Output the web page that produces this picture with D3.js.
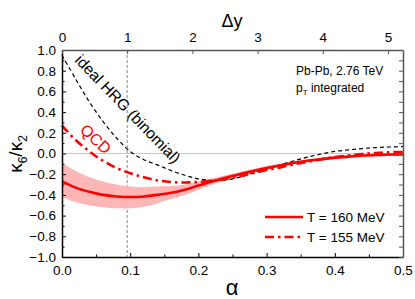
<!DOCTYPE html>
<html><head><meta charset="utf-8">
<script src="https://cdn.jsdelivr.net/npm/d3@7"></script>
<style>body{margin:0;background:#fff}svg{display:block}text{font-family:Arial,"Liberation Sans",Helvetica,sans-serif}</style>
</head><body><svg id="c" width="415" height="299"></svg>
<script>
const alpha = [0,0.02,0.04,0.06,0.08,0.1,0.12,0.14,0.16,0.18,0.2,0.22,0.24,0.26,0.28,0.3,0.32,0.34,0.36,0.38,0.4,0.42,0.44,0.46,0.48,0.5];
const hrg =   [0.95,0.72,0.50,0.31,0.15,0.02,-0.06,-0.11,-0.165,-0.21,-0.245,-0.26,-0.255,-0.23,-0.19,-0.15,-0.11,-0.07,-0.035,-0.005,0.02,0.035,0.048,0.057,0.063,0.066];
const t155 =  [0.27,0.13,0.02,-0.07,-0.14,-0.19,-0.23,-0.26,-0.275,-0.28,-0.275,-0.265,-0.245,-0.22,-0.19,-0.16,-0.135,-0.105,-0.08,-0.055,-0.035,-0.02,-0.005,0.005,0.012,0.015];
const t160 =  [-0.27,-0.33,-0.37,-0.40,-0.415,-0.42,-0.415,-0.40,-0.38,-0.35,-0.31,-0.27,-0.235,-0.20,-0.17,-0.14,-0.115,-0.09,-0.07,-0.055,-0.04,-0.03,-0.02,-0.015,-0.01,-0.01];
const bandLo = [-0.42,-0.47,-0.50,-0.52,-0.53,-0.53,-0.515,-0.48,-0.44,-0.40,-0.35,-0.30,-0.26,-0.22,-0.19,-0.16,-0.13,-0.105,-0.085,-0.07,-0.055,-0.045,-0.035,-0.03,-0.025,-0.025];
const bandHi = [-0.09,-0.17,-0.23,-0.27,-0.30,-0.32,-0.325,-0.32,-0.315,-0.30,-0.27,-0.24,-0.21,-0.18,-0.15,-0.12,-0.10,-0.075,-0.055,-0.04,-0.025,-0.015,-0.005,0.0,0.005,0.005];
const xTicks = [0,0.1,0.2,0.3,0.4,0.5];
const yTicks = [-1,-0.8,-0.6,-0.4,-0.2,0,0.2,0.4,0.6,0.8,1];
const dyTicks = [0,1,2,3,4,5];
const dyMax = 5.23;
const dyLine = 1;
const legendLabels = ["T = 160 MeV","T = 155 MeV"];

const svg = d3.select("#c");
const L=62,R=403,T=50,B=257;
const x = d3.scaleLinear().domain([0,0.5]).range([L,R]);
const xt = d3.scaleLinear().domain([0,dyMax]).range([L,R]);
const y = d3.scaleLinear().domain([-1,1]).range([B,T]);
const fmt = d3.format(".1f");

// reference lines
svg.append("line").attr("x1",L).attr("x2",R).attr("y1",y(0)).attr("y2",y(0)).attr("stroke","#c8c8c8").attr("stroke-width",1);
svg.append("line").attr("x1",xt(dyLine)).attr("x2",xt(dyLine)).attr("y1",T).attr("y2",B).attr("stroke","#888").attr("stroke-width",1).attr("stroke-dasharray","3,2");

const idx = d3.range(alpha.length);
const curve = d3.curveCatmullRom;
svg.append("path").attr("d", d3.area().x(i=>x(alpha[i])).y0(i=>y(bandLo[i])).y1(i=>y(bandHi[i])).curve(curve)(idx)).attr("fill","#ffb6b6");
const line = arr => d3.line().x(i=>x(alpha[i])).y(i=>y(arr[i])).curve(curve)(idx);
svg.append("path").attr("d",line(hrg)).attr("fill","none").attr("stroke","#000").attr("stroke-width",1.2).attr("stroke-dasharray","4,3");
svg.append("path").attr("d",line(t155)).attr("fill","none").attr("stroke","#ff0000").attr("stroke-width",2.6).attr("stroke-dasharray","9,4,2.5,4");
svg.append("path").attr("d",line(t160)).attr("fill","none").attr("stroke","#ff0000").attr("stroke-width",2.6);

// axes
const gB = svg.append("g").attr("transform",`translate(0,${B})`).call(d3.axisBottom(x).tickValues(xTicks).tickFormat(fmt).tickSize(-4).tickSizeOuter(0).tickPadding(8));
const gL = svg.append("g").attr("transform",`translate(${L},0)`).call(d3.axisLeft(y).tickValues(yTicks).tickFormat(fmt).tickSize(-4).tickSizeOuter(0).tickPadding(6));
const gT = svg.append("g").attr("transform",`translate(0,${T})`).call(d3.axisTop(xt).tickValues(dyTicks).tickFormat(d3.format("d")).tickSize(-4).tickSizeOuter(0).tickPadding(8));
const gR = svg.append("g").attr("transform",`translate(${R},0)`).call(d3.axisRight(y).ticks(20).tickFormat("").tickSize(-4).tickSizeOuter(0));
// minor ticks
svg.append("g").attr("transform",`translate(0,${B})`).call(d3.axisBottom(x).tickValues(d3.range(0.05,0.5,0.1)).tickFormat("").tickSize(-2.5).tickSizeOuter(0)).select(".domain").remove();
svg.append("g").attr("transform",`translate(${L},0)`).call(d3.axisLeft(y).tickValues(d3.range(-0.9,1,0.2)).tickFormat("").tickSize(-2.5).tickSizeOuter(0)).select(".domain").remove();
svg.selectAll("g").selectAll("text").attr("font-size",13.5).attr("fill","#000").attr("font-family","Arial, 'Liberation Sans', sans-serif");
[gB,gL].forEach(g=>{g.select(".domain").attr("stroke","#000").attr("stroke-width",1.5);g.selectAll(".tick line").attr("stroke","#000");});
[gT,gR].forEach(g=>{g.select(".domain").attr("stroke","#555").attr("stroke-width",1.5);g.selectAll(".tick line").attr("stroke","#555");});

// titles
svg.append("text").attr("x",232).attr("y",27).attr("text-anchor","middle").attr("font-size",18).text("\u0394y");
svg.append("text").attr("x",232).attr("y",295).attr("text-anchor","middle").attr("font-size",22).attr("font-family","'Liberation Serif','DejaVu Serif',serif").text("\u03b1");
const yl = svg.append("text").attr("transform","translate(22,154) rotate(-90)").attr("text-anchor","middle").attr("font-size",19);
yl.append("tspan").text("\u03ba");
yl.append("tspan").attr("font-size",12).attr("dy",5).text("6");
yl.append("tspan").attr("dy",-5).text("/\u03ba");
yl.append("tspan").attr("font-size",12).attr("dy",5).text("2");

// annotations
svg.append("text").attr("transform","translate(74,61) rotate(46)").attr("font-size",15.5).text("ideal HRG (binomial)");
svg.append("text").attr("transform","translate(79,131) rotate(43)").attr("font-size",16).attr("fill","#ff0000").text("QCD");
svg.append("text").attr("x",296).attr("y",75).attr("font-size",12).text("Pb-Pb, 2.76 TeV");
const pt = svg.append("text").attr("x",296).attr("y",92).attr("font-size",12);
pt.append("tspan").text("p");
pt.append("tspan").attr("font-size",8).attr("dy",3).text("T");
pt.append("tspan").attr("dy",-3).text(" integrated");

// legend
const lg = svg.append("g");
legendLabels.forEach((lab,i)=>{
  const yy = 217 + i*20;
  lg.append("line").attr("x1",265).attr("x2",303).attr("y1",yy).attr("y2",yy).attr("stroke","#ff0000").attr("stroke-width",2.6).attr("stroke-dasharray", i===0?null:"9,4,2.5,4");
  lg.append("text").attr("x",307).attr("y",yy+5).attr("font-size",13.5).text(lab);
});
</script></body></html>
